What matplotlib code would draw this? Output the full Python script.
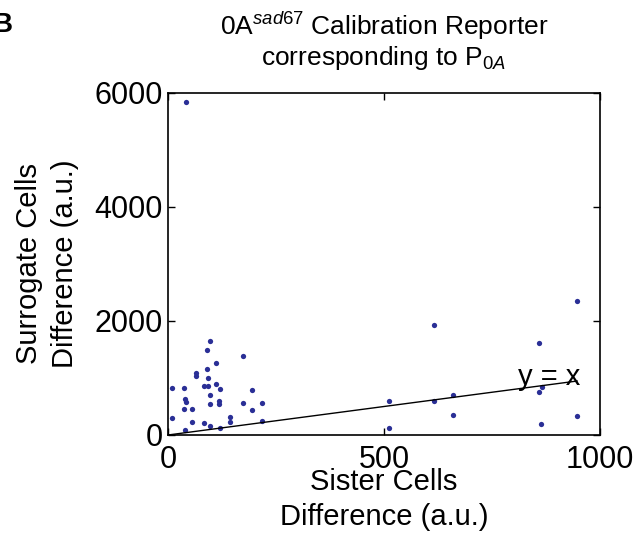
import matplotlib
matplotlib.use('Agg')
import matplotlib.pyplot as plt

plt.rcParams['font.family'] = ['Liberation Sans', 'DejaVu Sans']
plt.rcParams['mathtext.fontset'] = 'custom'
plt.rcParams['mathtext.rm'] = 'Liberation Sans'
plt.rcParams['mathtext.it'] = 'Liberation Sans:italic'

# sister cells difference (x) vs surrogate cells difference (y)
sister = [41, 97, 91, 174, 110, 91, 64, 64, 93, 110, 83, 93, 9, 36, 120, 194,
          98, 39, 42, 117, 117, 98, 174, 218, 36, 56, 194, 9, 144, 144, 56, 83,
          97, 120, 39, 218,
          947, 615, 858, 865, 858, 511, 615, 660, 660, 947, 864, 511]
surrogate = [5837, 1643, 1497, 1392, 1269, 1158, 1088, 1041, 994, 901, 854, 854,
             825, 825, 801, 789, 696, 626, 579, 602, 538, 550, 561, 561, 462, 450,
             433, 298, 322, 228, 228, 205, 164, 117, 94, 251,
             2351, 1924, 1620, 836, 760, 602, 591, 708, 357, 327, 187, 117]

fig = plt.figure(figsize=(6.4, 5.46), dpi=100)
ax = fig.add_axes([0.2625, 0.2033, 0.675, 0.6264])

ax.plot(sister, surrogate, 'o', color='#2a2f96', markersize=3.8, markeredgewidth=0)
xmax = max(sister)
ax.plot([0, xmax], [0, xmax], color='black', linewidth=1)
ax.text(810, 880, 'y = x', fontsize=21)

ax.set_xlim(0, 1000)
ax.set_ylim(0, 6000)
ax.set_xticks([0, 500, 1000])
ax.set_yticks([0, 2000, 4000, 6000])
ax.tick_params(direction='in', top=True, right=True, labelsize=22, length=5, width=1, pad=4)
ax.tick_params(axis='x', pad=7)
for s in ax.spines.values():
    s.set_linewidth(1.2)

ax.set_xlabel('Sister Cells\nDifference (a.u.)', fontsize=21, labelpad=-5, linespacing=1.35)
ax.set_ylabel('Surrogate Cells\nDifference (a.u.)', fontsize=21, labelpad=11, linespacing=1.35)
ax.set_title('0A$^{\\mathit{sad67}}$ Calibration Reporter\ncorresponding to P$_{\\mathit{0A}}$',
             fontsize=19, pad=20, linespacing=1.1)

fig.text(-0.012, 0.955, 'B', fontsize=20, fontweight='bold', va='center')

fig.savefig('out.png', dpi=100)
